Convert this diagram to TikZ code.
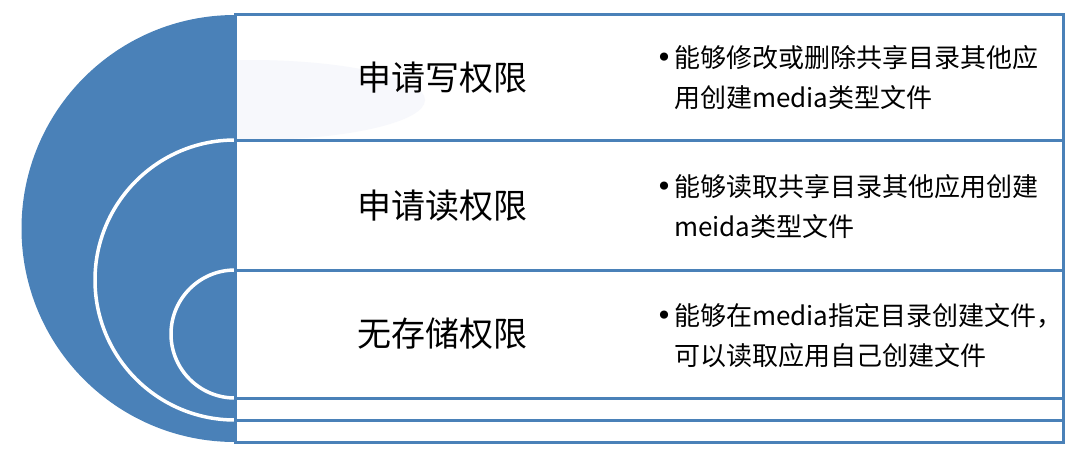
\documentclass[tikz,border=0pt]{standalone}
\usepackage{fontspec}
\newfontfamily\cjk{Noto Sans CJK SC}
\newfontfamily\dotfont{DejaVu Sans}
\definecolor{quanblue}{RGB}{74,129,184}
\definecolor{faintblue}{RGB}{247,248,252}
\newcommand{\bigdot}{\makebox[20pt][c]{\dotfont\fontsize{28}{28}\selectfont •}}

\begin{document}
\begin{tikzpicture}[x=1pt,y=-1pt,
    rowline/.style={draw=quanblue, line width=3pt},
    ringline/.style={draw=white, line width=3.5pt},
    titletext/.style={font=\cjk\fontsize{34}{40}\selectfont, inner sep=0pt},
    desctext/.style={font=\cjk\fontsize{26}{40}\selectfont, inner sep=0pt, anchor=west}]
    \useasboundingbox (0,0) rectangle (1080,459);
    \fill[quanblue] (235,228.5) circle (213.5); % 外层大圆
    \draw[ringline] (235,280) circle (140); % 中间圆环
    \draw[ringline] (235,334) circle (64); % 内层圆环
    \fill[white] (235,14) rectangle (1063,442); % 右侧白底盖住半圆
    \begin{scope}
        \clip (236,15.5) rectangle (1062,138.5);
        \fill[faintblue] (250,100) ellipse (175 and 40); % 第一行的浅色高光
    \end{scope}
    \draw[rowline] (235,14) rectangle (1063,442); % 外框
    \foreach \y in {140,270,398,420}
        \draw[rowline] (235,\y) -- (1063,\y); % 分行线

    \node[titletext] (write) at (442,78) {申请写权限}; % 第一行标题
    \node[titletext] (read) at (442,206) {申请读权限}; % 第二行标题
    \node[titletext] (none) at (442,334) {无存储权限}; % 第三行标题

    \node[desctext] (descwrite) at (654,79) {\begin{tabular}{@{}l@{}l@{}}\bigdot & 能够修改或删除共享目录其他应\\ & 用创建media类型文件\end{tabular}}; % 写权限说明
    \node[desctext] (descread) at (654,208) {\begin{tabular}{@{}l@{}l@{}}\bigdot & 能够读取共享目录其他应用创建\\ & meida类型文件\end{tabular}}; % 读权限说明
    \node[desctext] (descnone) at (654,337) {\begin{tabular}{@{}l@{}l@{}}\bigdot & 能够在media指定目录创建文件，\\ & 可以读取应用自己创建文件\end{tabular}}; % 无权限说明
\end{tikzpicture}
\end{document}
